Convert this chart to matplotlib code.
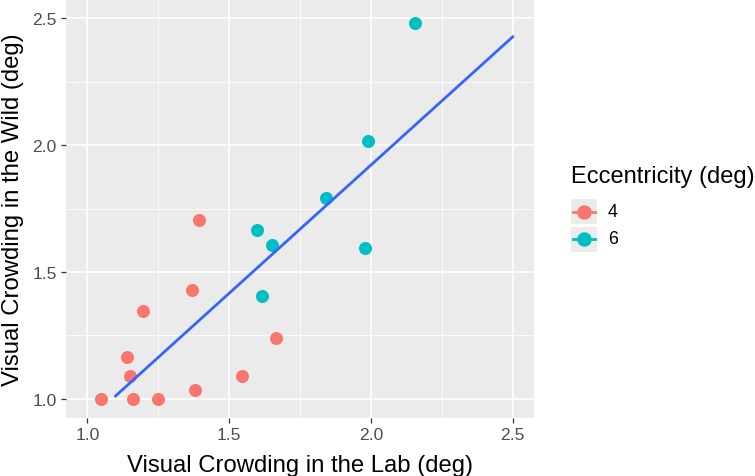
import numpy as np
import matplotlib.pyplot as plt
from matplotlib.patches import Rectangle
from matplotlib.lines import Line2D

plt.rcParams['font.family'] = ['Liberation Sans', 'DejaVu Sans']

# eccentricity 4 deg
lab_4 = [1.05, 1.16, 1.25, 1.14, 1.15, 1.195, 1.37, 1.395, 1.38, 1.545, 1.665]
wild_4 = [1.00, 1.00, 1.00, 1.165, 1.09, 1.345, 1.43, 1.705, 1.035, 1.09, 1.24]
# eccentricity 6 deg
lab_6 = [2.155, 1.99, 1.84, 1.60, 1.65, 1.98, 1.615]
wild_6 = [2.48, 2.015, 1.79, 1.665, 1.605, 1.595, 1.405]
# fitted line ends
fit_x = [1.1, 2.5]
fit_y = [1.012, 2.426]

ticks = [1.0, 1.5, 2.0, 2.5]
tick_labels = ['1.0', '1.5', '2.0', '2.5']
groups = ['4', '6']
colors = ['#F8766D', '#00BFC4']

W, H = 755, 477
fig = plt.figure(figsize=(W / 100, H / 100), dpi=100)
ax = fig.add_axes([66 / W, 1 - 419 / H, (534 - 66) / W, 419 / H])
ax.set_facecolor('#EBEBEB')

ax.scatter(lab_4, wild_4, s=88, color=colors[0], linewidths=0, zorder=3)
ax.scatter(lab_6, wild_6, s=88, color=colors[1], linewidths=0, zorder=3)
ax.plot(fit_x, fit_y, color='#3366FF', lw=2.0, zorder=4)

ax.set_xlim(0.925, 2.575)
ax.set_ylim(0.925, 2.575)
ax.set_xticks(ticks)
ax.set_xticklabels(tick_labels)
ax.set_yticks(ticks)
ax.set_yticklabels(tick_labels)
ax.set_xticks([1.25, 1.75, 2.25], minor=True)
ax.set_yticks([1.25, 1.75, 2.25], minor=True)
ax.grid(which='major', color='white', lw=1.2)
ax.grid(which='minor', color='white', lw=0.6)
ax.set_axisbelow(True)
for sp in ax.spines.values():
    sp.set_visible(False)
ax.tick_params(which='major', length=3.6, width=0.9, color='#333333',
               labelsize=12.6, labelcolor='#4D4D4D', pad=3)
ax.tick_params(which='minor', length=0)

ax.set_xlabel('Visual Crowding in the Lab (deg)', fontsize=17.2)
ax.set_ylabel('Visual Crowding in the Wild (deg)', fontsize=17.2)
ax.xaxis.set_label_coords(0.5, (419 - 455) / 419)
ax.yaxis.set_label_coords((24 - 66) / 468, 0.5)

# legend drawn by hand, ggplot style
fig.text(571 / W, 1 - 177 / H, 'Eccentricity (deg)', fontsize=17,
         va='center', ha='left')
for i, (g, c) in enumerate(zip(groups, colors)):
    cy = 212.5 + i * 27.5
    fig.add_artist(Rectangle((571 / W, 1 - (cy + 12.5) / H), 26 / W, 25 / H,
                             transform=fig.transFigure, color='#EBEBEB', lw=0))
    fig.add_artist(Line2D([573 / W, 595 / W], [1 - cy / H] * 2,
                          transform=fig.transFigure, color=c, lw=2))
    fig.add_artist(Line2D([584 / W], [1 - cy / H], transform=fig.transFigure,
                          color=c, marker='o', markersize=9.4, lw=0))
    fig.text(608 / W, 1 - cy / H, g, fontsize=12.8, va='center', ha='left')

fig.savefig('out.png', dpi=100)
